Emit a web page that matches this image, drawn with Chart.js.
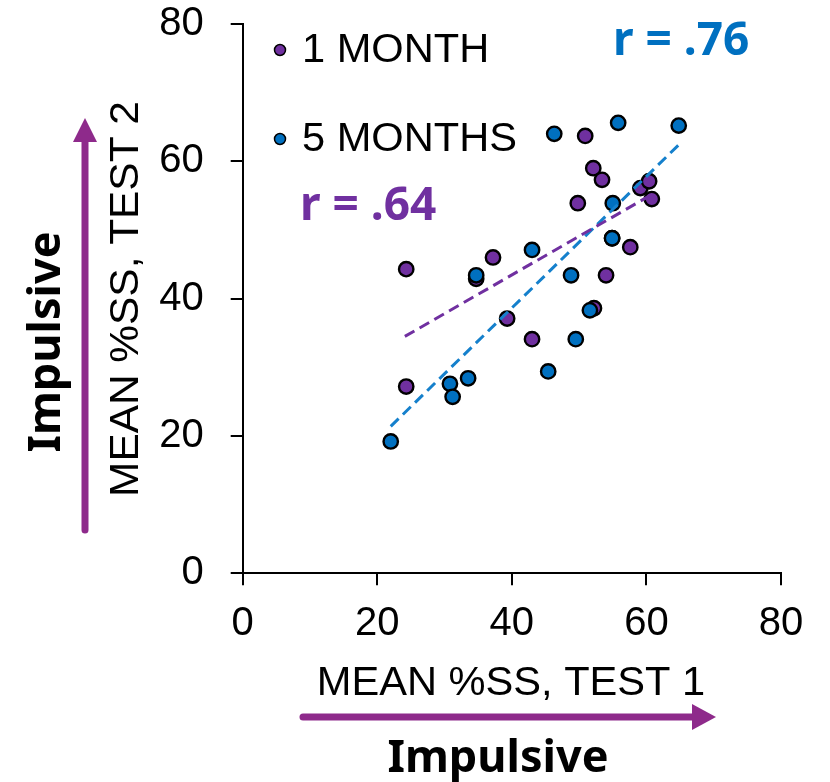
<!DOCTYPE html>
<html>
<head>
<meta charset="utf-8">
<script src="https://cdn.jsdelivr.net/npm/chart.js@4.4.1/dist/chart.umd.min.js"></script>
<style>
html,body{margin:0;padding:0;background:#fff;}
#c{display:block;}
</style>
</head>
<body>
<canvas id="c" width="830" height="782"></canvas>
<script>
// ---- data ----
const seriesNames = ['1 MONTH', '5 MONTHS'];
const month1X = [50.9, 52.1, 53.4, 59.1, 60.4, 60.8, 49.8, 57.6, 37.2, 24.3, 54.0, 52.2, 39.3, 43.0, 24.3, 34.7];
const month1Y = [63.7, 59.0, 57.3, 56.1, 57.1, 54.5, 53.9, 47.5, 46.0, 44.3, 43.4, 38.6, 37.1, 34.1, 27.2, 42.9];
const month5X = [46.3, 55.8, 64.8, 55.0, 54.9, 43.0, 34.7, 48.8, 51.6, 49.5, 45.4, 30.8, 33.5, 31.2, 22.0, 54.9];
const month5Y = [64.0, 65.6, 65.2, 53.9, 48.8, 47.1, 43.4, 43.4, 38.3, 34.1, 29.4, 27.6, 28.4, 25.7, 19.2, 48.8];
const trend1X = [24.1, 60.5];
const trend1Y = [34.5, 55.0];
const trend5X = [22.0, 64.8];
const trend5Y = [21.4, 62.4];
const rLabels = ['r = .64', 'r = .76'];
const xTicks = [0, 20, 40, 60, 80];
const yTicks = [0, 20, 40, 60, 80];
const xTitle = 'MEAN %SS, TEST 1';
const yTitle = 'MEAN %SS, TEST 2';
const arrowLabel = 'Impulsive';

const PURPLE = '#7030A0';
const BLUE = '#0070C0';
const ARROW = '#8E2A8B';

const pts = (xs, ys) => xs.map((x, i) => ({x: x, y: ys[i]}));

function stretchText(ctx, t, x, y, sx) {
  ctx.save(); ctx.translate(x, y); ctx.scale(sx, 1); ctx.fillText(t, 0, 0); ctx.restore();
}

const overlay = {
  id: 'overlay',
  afterDraw(chart) {
    const ctx = chart.ctx;
    ctx.save();
    // legend
    const leg = [[seriesNames[0], PURPLE, 50], [seriesNames[1], BLUE, 139]];
    leg.forEach(([t, col, y]) => {
      ctx.beginPath();
      ctx.arc(280, y, 5.5, 0, Math.PI * 2);
      ctx.fillStyle = col; ctx.fill();
      ctx.lineWidth = 1.5; ctx.strokeStyle = '#000'; ctx.stroke();
      ctx.fillStyle = '#000';
      ctx.font = '40px "Liberation Sans", Arial, sans-serif';
      ctx.textBaseline = 'middle'; ctx.textAlign = 'left';
      stretchText(ctx, t, 302, y + 1, 1.04);
    });
    // r labels
    ctx.font = 'bold 46px "Noto Sans", sans-serif';
    ctx.textAlign = 'left'; ctx.textBaseline = 'alphabetic';
    ctx.fillStyle = PURPLE; ctx.fillText(rLabels[0], 300, 220);
    ctx.fillStyle = BLUE; ctx.fillText(rLabels[1], 613, 55);
    // axis titles
    ctx.fillStyle = '#000';
    ctx.font = '40px "Liberation Sans", Arial, sans-serif';
    ctx.textAlign = 'center'; ctx.textBaseline = 'middle';
    stretchText(ctx, xTitle, 511, 684, 1.04);
    ctx.save();
    ctx.translate(127, 299); ctx.rotate(-Math.PI / 2); ctx.scale(1.06, 1);
    ctx.fillText(yTitle, 0, 0);
    ctx.restore();
    // arrows
    ctx.strokeStyle = ARROW; ctx.fillStyle = ARROW; ctx.lineWidth = 7; ctx.lineCap = 'round';
    ctx.beginPath(); ctx.moveTo(303, 717); ctx.lineTo(696, 717); ctx.stroke();
    ctx.beginPath(); ctx.moveTo(716, 717); ctx.lineTo(692, 704); ctx.lineTo(692, 730); ctx.closePath(); ctx.fill();
    ctx.beginPath(); ctx.moveTo(85, 530); ctx.lineTo(85, 138); ctx.stroke();
    ctx.beginPath(); ctx.moveTo(85, 118); ctx.lineTo(73, 142); ctx.lineTo(97, 142); ctx.closePath(); ctx.fill();
    // Impulsive labels
    ctx.fillStyle = '#000';
    ctx.font = 'bold 45px "Noto Sans", sans-serif';
    ctx.textAlign = 'center'; ctx.textBaseline = 'alphabetic';
    ctx.fillText(arrowLabel, 498, 772);
    ctx.save();
    ctx.translate(60, 342); ctx.rotate(-Math.PI / 2);
    ctx.fillText(arrowLabel, 0, 0);
    ctx.restore();
    ctx.restore();
  }
};

new Chart(document.getElementById('c'), {
  data: {
    datasets: [
      {type: 'line', label: 'trend 1', data: pts(trend1X, trend1Y), borderColor: PURPLE, borderWidth: 3, borderDash: [11, 6], pointRadius: 0, fill: false, order: 0},
      {type: 'line', label: 'trend 5', data: pts(trend5X, trend5Y), borderColor: '#1580CC', borderWidth: 3, borderDash: [11, 6], pointRadius: 0, fill: false, order: 0},
      {type: 'scatter', label: seriesNames[1], data: pts(month5X, month5Y), backgroundColor: BLUE, borderColor: '#000', borderWidth: 2.4, pointRadius: 7.2, order: 1},
      {type: 'scatter', label: seriesNames[0], data: pts(month1X, month1Y), backgroundColor: PURPLE, borderColor: '#000', borderWidth: 2.4, pointRadius: 7.2, order: 2}
    ]
  },
  options: {
    responsive: false,
    animation: false,
    layout: {padding: {left: 0, top: 24, right: 49, bottom: 0}},
    plugins: {legend: {display: false}, tooltip: {enabled: false}},
    scales: {
      x: {
        type: 'linear', min: 0, max: 80,
        afterBuildTicks: s => { s.ticks = xTicks.map(v => ({value: v})); },
        afterFit: s => { s.height = 208.7; s.paddingLeft = 0; s.paddingRight = 0; },
        grid: {display: true, drawOnChartArea: false, drawTicks: true, tickLength: 12, color: '#000', lineWidth: 2},
        border: {display: true, color: '#000', width: 2},
        ticks: {color: '#000', font: {family: '"Liberation Sans", Arial, sans-serif', size: 40}, padding: 15, maxRotation: 0}
      },
      y: {
        type: 'linear', min: 0, max: 80,
        afterBuildTicks: s => { s.ticks = yTicks.map(v => ({value: v})); },
        afterFit: s => { s.width = 242.7; s.paddingTop = 0; s.paddingBottom = 0; },
        grid: {display: true, drawOnChartArea: false, drawTicks: true, tickLength: 12, color: '#000', lineWidth: 2},
        border: {display: true, color: '#000', width: 2},
        ticks: {color: '#000', font: {family: '"Liberation Sans", Arial, sans-serif', size: 40}, padding: 27}
      }
    }
  },
  plugins: [overlay]
});
</script>
</body>
</html>
